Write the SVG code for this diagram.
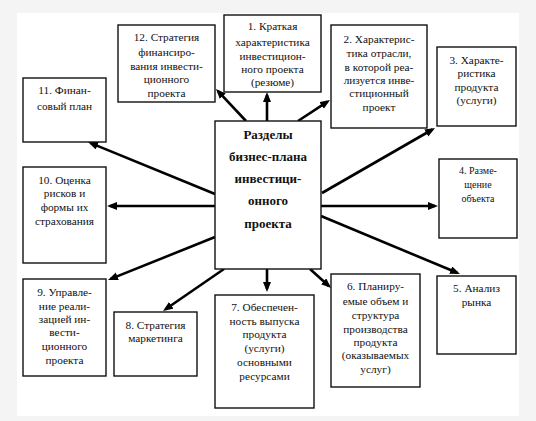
<svg xmlns="http://www.w3.org/2000/svg" width="536" height="421" viewBox="0 0 536 421">
<defs>
<marker id="ah" markerUnits="userSpaceOnUse" markerWidth="11" markerHeight="9" refX="7" refY="4" orient="auto">
<path d="M0,0 L10,4 L0,8 z" fill="#000"/>
</marker>
</defs>
<style>
.box{fill:#fff;stroke:#111;stroke-width:1.4}
.t{font-family:'Liberation Serif','DejaVu Serif',serif;font-size:11.3px;fill:#111;text-anchor:middle}
.tc{font-family:'Liberation Serif','DejaVu Serif',serif;font-size:13px;font-weight:bold;fill:#111;text-anchor:middle}
.c{stroke:#000;stroke-width:2.6;fill:none;marker-end:url(#ah)}
</style>
<rect x="0" y="0" width="536" height="421" fill="#f4f4f4"/>
<rect x="17" y="13" width="502" height="403" fill="#fff"/>
<g id="connectors">
<line class="c" x1="267" y1="121" x2="267" y2="95"/>
<line class="c" x1="246" y1="121" x2="218" y2="91.2"/>
<line class="c" x1="298" y1="121" x2="327.5" y2="101.6"/>
<line class="c" x1="322" y1="193" x2="432.4" y2="129.5"/>
<line class="c" x1="321" y1="206" x2="435" y2="206"/>
<line class="c" x1="321" y1="216" x2="457.2" y2="272.8"/>
<line class="c" x1="310" y1="269" x2="328.8" y2="286"/>
<line class="c" x1="267" y1="269" x2="267" y2="289"/>
<line class="c" x1="224" y1="269" x2="165.5" y2="309.3"/>
<line class="c" x1="215" y1="237" x2="110.8" y2="278.9"/>
<line class="c" x1="215" y1="206" x2="110" y2="206"/>
<line class="c" x1="215" y1="194" x2="90.8" y2="143.1"/>
</g>
<g id="center">
<rect class="box" x="215" y="121" width="106" height="148"/>
<text class="tc" x="268"><tspan x="268" y="139">Разделы</tspan><tspan x="268" y="161">бизнес-плана</tspan><tspan x="268" y="183">инвестици-</tspan><tspan x="268" y="205">онного</tspan><tspan x="268" y="228">проекта</tspan></text>
</g>
<g id="n1">
<rect class="box" x="224" y="15" width="97" height="77"/>
<text class="t"><tspan x="272.5" y="30">1. Краткая</tspan><tspan x="272.5" y="46">характеристика</tspan><tspan x="272.5" y="59.5">инвестицион-</tspan><tspan x="272.5" y="73">ного проекта</tspan><tspan x="272.5" y="86">(резюме)</tspan></text>
</g>
<g id="n2">
<rect class="box" x="331" y="25" width="96" height="103"/>
<text class="t"><tspan x="379" y="43">2. Характерис-</tspan><tspan x="379" y="57">тика отрасли,</tspan><tspan x="379" y="70.5">в которой реа-</tspan><tspan x="379" y="84">лизуется инве-</tspan><tspan x="379" y="97">стиционный</tspan><tspan x="379" y="111">проект</tspan></text>
</g>
<g id="n3">
<rect class="box" x="437" y="47" width="79" height="79"/>
<text class="t"><tspan x="476.5" y="64">3. Характе-</tspan><tspan x="476.5" y="77">ристика</tspan><tspan x="476.5" y="91">продукта</tspan><tspan x="476.5" y="104">(услуги)</tspan></text>
</g>
<g id="n4">
<rect class="box" x="439" y="159" width="78" height="79"/>
<text class="t" style="font-size:10px"><tspan x="478" y="173.5">4. Разме-</tspan><tspan x="478" y="187.5">щение</tspan><tspan x="478" y="201.5">объекта</tspan></text>
</g>
<g id="n5">
<rect class="box" x="437" y="276" width="79" height="78"/>
<text class="t"><tspan x="476.5" y="291.5">5. Анализ</tspan><tspan x="476.5" y="306">рынка</tspan></text>
</g>
<g id="n6">
<rect class="box" x="331" y="274" width="89" height="113"/>
<text class="t"><tspan x="375.5" y="290">6. Планиру-</tspan><tspan x="375.5" y="305">емые объем и</tspan><tspan x="375.5" y="319">структура</tspan><tspan x="375.5" y="332.5">производства</tspan><tspan x="375.5" y="346">продукта</tspan><tspan x="375.5" y="358.5">(оказываемых</tspan><tspan x="375.5" y="372.5">услуг)</tspan></text>
</g>
<g id="n7">
<rect class="box" x="215" y="295" width="99" height="113"/>
<text class="t"><tspan x="264.5" y="311">7. Обеспечен-</tspan><tspan x="264.5" y="324.5">ность выпуска</tspan><tspan x="264.5" y="337.5">продукта</tspan><tspan x="264.5" y="351.5">(услуги)</tspan><tspan x="264.5" y="365.5">основными</tspan><tspan x="264.5" y="380">ресурсами</tspan></text>
</g>
<g id="n8">
<rect class="box" x="114" y="312" width="83" height="64"/>
<text class="t"><tspan x="155.5" y="328.5">8. Стратегия</tspan><tspan x="155.5" y="341.5">маркетинга</tspan></text>
</g>
<g id="n9">
<rect class="box" x="23" y="279" width="83" height="97"/>
<text class="t"><tspan x="64.5" y="296">9. Управле-</tspan><tspan x="64.5" y="310">ние реали-</tspan><tspan x="64.5" y="322.5">зацией ин-</tspan><tspan x="64.5" y="336">вести-</tspan><tspan x="64.5" y="349.5">ционного</tspan><tspan x="64.5" y="363.5">проекта</tspan></text>
</g>
<g id="n10">
<rect class="box" x="23" y="167" width="83" height="96"/>
<text class="t"><tspan x="64.5" y="183.5">10. Оценка</tspan><tspan x="64.5" y="196.5">рисков и</tspan><tspan x="64.5" y="210.5">формы их</tspan><tspan x="64.5" y="224.5">страхования</tspan></text>
</g>
<g id="n11">
<rect class="box" x="23" y="78" width="83" height="64"/>
<text class="t"><tspan x="64.5" y="93.5">11. Финан-</tspan><tspan x="64.5" y="109.5">совый план</tspan></text>
</g>
<g id="n12">
<rect class="box" x="118" y="25" width="97" height="77"/>
<text class="t"><tspan x="166.5" y="41">12. Стратегия</tspan><tspan x="166.5" y="55.5">финансиро-</tspan><tspan x="166.5" y="69.5">вания инвести-</tspan><tspan x="166.5" y="82.5">ционного</tspan><tspan x="166.5" y="96.5">проекта</tspan></text>
</g>
</svg>
